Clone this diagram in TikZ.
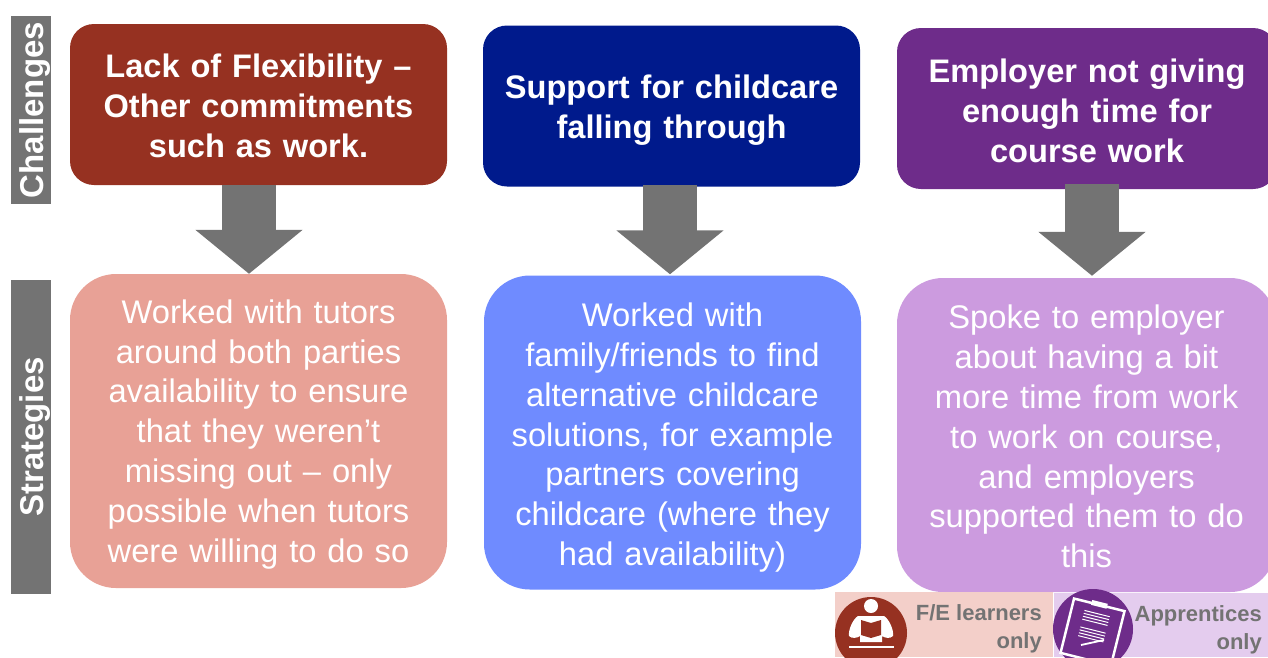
\documentclass[tikz,border=0pt]{standalone}
\usepackage{fontspec}
\setmainfont{Liberation Sans}
\usetikzlibrary{arrows.meta}

\definecolor{redDark}{HTML}{963121}
\definecolor{redLight}{HTML}{E8A196}
\definecolor{blueDark}{HTML}{001A8C}
\definecolor{blueLight}{HTML}{6F8BFF}
\definecolor{purpleDark}{HTML}{6E2C8A}
\definecolor{purpleLight}{HTML}{CC9BDF}
\definecolor{sideGray}{HTML}{737373}
\definecolor{legendRed}{HTML}{F3CFC9}
\definecolor{legendPurple}{HTML}{E4CCEE}

\tikzset{
    challenge/.style={rectangle, rounded corners=24pt, minimum width=377pt, minimum height=161pt, text width=360pt, align=center, text=white, font=\fontsize{32.6}{40}\selectfont\bfseries, inner sep=0pt},
    strategy/.style={rectangle, rounded corners=46pt, minimum width=377pt, minimum height=314pt, text width=360pt, align=center, text=white, font=\fontsize{32.7}{39.8}\selectfont, inner sep=0pt},
    sidebar/.style={rectangle, fill=sideGray, rotate=90, text height=32pt, text depth=8pt, text=white, font=\fontsize{33}{36}\selectfont\bfseries, inner xsep=0pt, inner ysep=0pt},
    blockarrow/.style={draw=sideGray, line width=54pt, -{Triangle[length=44pt, width=105pt, fill=sideGray]}},
    legendtext/.style={align=right, text=sideGray, font=\fontsize{22}{28}\selectfont\bfseries, inner sep=0pt, anchor=east},
    textdown/.style={execute at begin node={\leavevmode\rule{0pt}{#1}}}
}

\begin{document}
\begin{tikzpicture}[x=1pt, y=-1pt]
    \useasboundingbox (0,0) rectangle (1268,657);

    \node[sidebar, minimum width=188pt] (challenges) at (31,110) {Challenges};
    \node[sidebar, minimum width=314pt] (strategies) at (31,437) {Strategies};

    \node[challenge, fill=redDark, textdown=26pt] (ch1) at (258.5,104.5) {Lack of Flexibility --\\Other commitments\\such as work.};
    \node[challenge, fill=blueDark, textdown=32pt] (ch2) at (671.5,106) {Support for childcare\\falling through};
    \node[challenge, fill=purpleDark, textdown=28pt, minimum width=380pt] (ch3) at (1087,108.5) {Employer not giving\\enough time for\\course work};

    \node[strategy, fill=redLight, textdown=30pt] (st1) at (258.5,431) {Worked with tutors\\around both parties\\availability to ensure\\that they weren’t\\missing out -- only\\possible when tutors\\were willing to do so};
    \node[strategy, fill=blueLight, textdown=34pt] (st2) at (672.5,432.5) {Worked with\\family/friends to find\\alternative childcare\\solutions, for example\\partners covering\\childcare (where they\\had availability)};
    \node[strategy, fill=purpleLight, textdown=27pt, minimum width=379pt] (st3) at (1086.5,435) {Spoke to employer\\about having a bit\\more time from work\\to work on course,\\and employers\\supported them to do\\this};

    \draw[blockarrow] ([xshift=-9.5pt]ch1.south) -- ([xshift=-9.5pt]st1.north);
    \draw[blockarrow] ([xshift=-1.5pt, yshift=2pt]ch2.south) -- ([xshift=-2.5pt, yshift=1pt]st2.north);
    \draw[blockarrow] ([xshift=5pt, yshift=5pt]ch3.south) -- ([xshift=5.5pt, yshift=2pt]st3.north);

    % legend
    \fill[legendRed] (835,592) rectangle (1053,657);
    \fill[legendPurple] (1054,593) rectangle (1268,657);
    \node[legendtext] (fe) at (1042,629) {F/E learners\\only};
    \node[legendtext] (app) at (1262,630) {Apprentices\\only};

    % reader icon
    \fill[redDark] (871,633) circle (36);
    \fill[white] (871,606) circle (7);
    \fill[white] (858,616) -- (884,616) .. controls (889,619) and (894,630) .. (893,636) .. controls (890,639) and (885,638) .. (882,636) -- (882,642) -- (860,642) -- (860,636) .. controls (857,638) and (852,639) .. (849,636) .. controls (848,630) and (853,619) .. (858,616) -- cycle;
    \fill[redDark] (861,620) -- (871,623) -- (881,620) -- (881,635) -- (871,638) -- (861,635) -- cycle;
    \draw[white, line width=1.3pt] (849,647) -- (894,647);

    % clipboard icon
    \fill[purpleDark] (1093,629) circle (40);
    \begin{scope}[shift={(1092.5,632)}, rotate=-14]
        \draw[white, line width=2.5pt] (-26,-28) rectangle (26,28);
        \fill[white] (-8,-31) rectangle (8,-26);
        \foreach \y in {-19,-16,-13,-10,-2,1,4,7} {
            \draw[white, line width=1pt] (-13,\y) -- (13,\y);
        }
    \end{scope}
    \draw[white, line width=1.8pt] (1081,645) -- (1104,640);
\end{tikzpicture}
\end{document}
